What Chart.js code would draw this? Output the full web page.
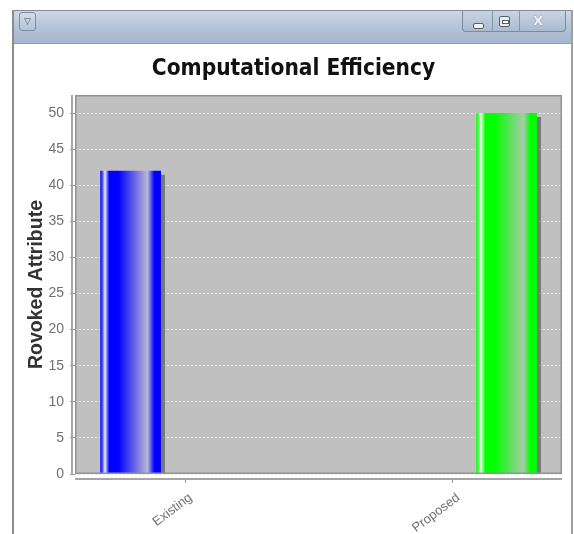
<!DOCTYPE html>
<html>
<head>
<meta charset="utf-8">
<script src="https://cdn.jsdelivr.net/npm/chart.js@4"></script>
<style>
html,body{margin:0;padding:0;background:#fff;width:574px;height:534px;overflow:hidden}
#wrap{position:relative;width:574px;height:534px}
#c{position:absolute;left:0;top:0}
.frameL{position:absolute;left:12px;top:10px;width:2px;height:524px;background:#8c8c8c}
.frameR{position:absolute;left:571px;top:10px;width:2px;height:524px;background:#a0a0a0}
.titlebar{position:absolute;left:12px;top:10px;width:561px;height:34px;box-sizing:border-box;
  background:linear-gradient(#cdd8e5 0%,#b6c6d8 45%,#a3b6cd 100%);border-top:1px solid #7f8c9b;border-bottom:1px solid #8aa0bb}
.btnL{position:absolute;left:19px;top:12px;width:17px;height:19px;box-sizing:border-box;border:1px solid #7c8ca0;border-radius:3px;
  font:9px "DejaVu Sans";color:#4a5868;text-align:center;line-height:16px;background:linear-gradient(#d3dde8,#b3c3d6)}
.grp{position:absolute;left:462px;top:11px;width:104px;height:21px;box-sizing:border-box;border:1px solid #7c8ca0;border-top:none;border-radius:0 0 4px 4px;
  background:linear-gradient(#c8d4e2,#aabbd0)}
.sep1{position:absolute;left:29px;top:0;width:1px;height:20px;background:#8596ab}
.sep2{position:absolute;left:56px;top:0;width:1px;height:20px;background:#8596ab}
.minI{position:absolute;left:10px;top:12px;width:9px;height:4px;border:1px solid #55606c;border-radius:2px;background:#f4f6f8}
.maxI{position:absolute;left:36px;top:5px;width:9px;height:9px;border:1px solid #55606c;border-radius:2px;background:#e8edf2}
.maxI:after{content:"";position:absolute;left:2px;top:3px;width:5px;height:2px;border:1px solid #55606c;background:#fff}
.clsI{position:absolute;left:70px;top:2px;font:bold 13px "DejaVu Sans";color:#eef2f6;text-shadow:0 0 1px #7a8696,0 0 1px #7a8696}
</style>
</head>
<body>
<div id="wrap">
<canvas id="c" width="574" height="534"></canvas>
<div class="titlebar"></div>
<div class="btnL">▽</div>
<div class="grp"><div class="sep1"></div><div class="sep2"></div><div class="minI"></div><div class="maxI"></div><div class="clsI">X</div></div>
<div class="frameL"></div>
<div class="frameR"></div>
</div>
<script>
// ---- data ----
const categories = ['Existing', 'Proposed'];
const existingValues = [42, 0];
const proposedValues = [0, 50];
const yTickValues = [0, 5, 10, 15, 20, 25, 30, 35, 40, 45, 50];
const yMax = 52.5;
const chartTitle = 'Computational Efficiency';
const yAxisTitle = 'Rovoked Attribute';

// ---- styles ----
const seriesStyles = [
  {base: '#0000ff', edge: '#2a2aff', white: '#eeeeff', light: '#b8b8d6'},
  {base: '#00ff00', edge: '#2aff2a', white: '#eeffee', light: '#a9c9a9'}
];

function barGradient(ctx, s) {
  const el = ctx.element;
  if (!el || !el.width || !isFinite(el.x)) return s.base;
  const x0 = el.x - el.width / 2, x1 = el.x + el.width / 2;
  const g = ctx.chart.ctx.createLinearGradient(x0, 0, x1, 0);
  g.addColorStop(0, s.edge);
  g.addColorStop(0.03, s.edge);
  g.addColorStop(0.08, s.white);
  g.addColorStop(0.15, s.base);
  g.addColorStop(0.30, s.base);
  g.addColorStop(0.78, s.light);
  g.addColorStop(0.89, s.base);
  g.addColorStop(1, s.base);
  return g;
}

const plotFrame = {
  id: 'plotFrame',
  beforeDraw(chart) {
    const {ctx, chartArea: a} = chart;
    ctx.save();
    ctx.fillStyle = '#c0c0c0';
    ctx.fillRect(a.left, a.top, a.right - a.left, a.bottom - a.top);
    ctx.restore();
  },
  beforeDatasetsDraw(chart) {
    const ctx = chart.ctx;
    ctx.save();
    ctx.shadowColor = 'rgba(60,60,60,0.55)';
    ctx.shadowOffsetX = 4;
    ctx.shadowOffsetY = 4;
    ctx.shadowBlur = 0;
  },
  afterDatasetsDraw(chart) {
    const {ctx, chartArea: a} = chart;
    ctx.restore();
    ctx.save();
    ctx.strokeStyle = '#939393';
    ctx.lineWidth = 1.5;
    ctx.strokeRect(a.left + 0.75, a.top + 0.75, a.right - a.left - 1.5, a.bottom - a.top - 1.5);
    ctx.strokeStyle = '#a6a6a6';
    ctx.lineWidth = 2;
    ctx.beginPath();
    ctx.moveTo(a.left - 3, a.top);
    ctx.lineTo(a.left - 3, a.bottom + 1);
    ctx.moveTo(a.left, a.bottom + 5);
    ctx.lineTo(a.right, a.bottom + 5);
    ctx.stroke();
    const xs = chart.scales.x;
    ctx.strokeStyle = '#999';
    ctx.lineWidth = 1;
    ctx.beginPath();
    categories.forEach((c, i) => {
      const px = Math.round(xs.getPixelForValue(i)) + 0.5;
      ctx.moveTo(px, a.bottom + 6);
      ctx.lineTo(px, a.bottom + 9);
    });
    ctx.stroke();
    ctx.restore();
  },
  afterLayout(chart) {
    if (chart.titleBlock) { chart.titleBlock.left = 13; chart.titleBlock.right = 574; }
  }
};

const chart = new Chart(document.getElementById('c'), {
  type: 'bar',
  data: {
    datasets: [
      {
        label: categories[0],
        data: existingValues.map((v, i) => ({x: i, y: v})),
        backgroundColor: (ctx) => barGradient(ctx, seriesStyles[0]),
        borderWidth: 0
      },
      {
        label: categories[1],
        data: proposedValues.map((v, i) => ({x: i, y: v})),
        backgroundColor: (ctx) => barGradient(ctx, seriesStyles[1]),
        borderWidth: 0
      }
    ]
  },
  options: {
    responsive: false,
    animation: false,
    devicePixelRatio: 1,
    datasets: {bar: {categoryPercentage: 0.81, barPercentage: 0.562, grouped: true}},
    layout: {padding: {left: 0, right: 12, top: 0, bottom: 0}},
    plugins: {
      legend: {display: false},
      tooltip: {enabled: false},
      title: {
        display: true,
        text: chartTitle,
        color: '#111',
        font: {family: '"DejaVu Sans Condensed", "DejaVu Sans"', size: 22.5, weight: 'bold'},
        padding: {top: 56, bottom: 12}
      }
    },
    scales: {
      x: {
        type: 'linear',
        min: -0.41,
        max: 1.41,
        offset: false,
        afterBuildTicks: (s) => { s.ticks = categories.map((c, i) => ({value: i})); },
        afterFit: (s) => { s.height = 60; },
        grid: {display: false},
        border: {display: false},
        ticks: {
          autoSkip: false,
          minRotation: 37,
          maxRotation: 37,
          padding: 8,
          labelOffset: 6,
          color: '#707070',
          font: {family: 'Liberation Sans', size: 13},
          callback: (v) => categories[Math.round(v)]
        }
      },
      y: {
        min: 0,
        max: yMax,
        afterBuildTicks: (s) => { s.ticks = yTickValues.map(v => ({value: v})); },
        afterFit: (s) => { s.width = 75; },
        border: {display: false, dash: [2, 2]},
        grid: {
          color: '#e8e8e8',
          lineWidth: 1,
          drawTicks: true,
          tickLength: 5,
          tickColor: '#999',
          tickBorderDash: [],
          tickWidth: 1
        },
        ticks: {
          padding: 6,
          color: '#707070',
          font: {family: 'Liberation Sans', size: 14}
        },
        title: {
          display: true,
          text: yAxisTitle,
          color: '#333',
          font: {family: 'Liberation Sans', size: 19.5, weight: 'bold'},
          padding: {top: 25, bottom: 0}
        }
      }
    }
  },
  plugins: [plotFrame]
});
chart.update();
</script>
</body>
</html>
